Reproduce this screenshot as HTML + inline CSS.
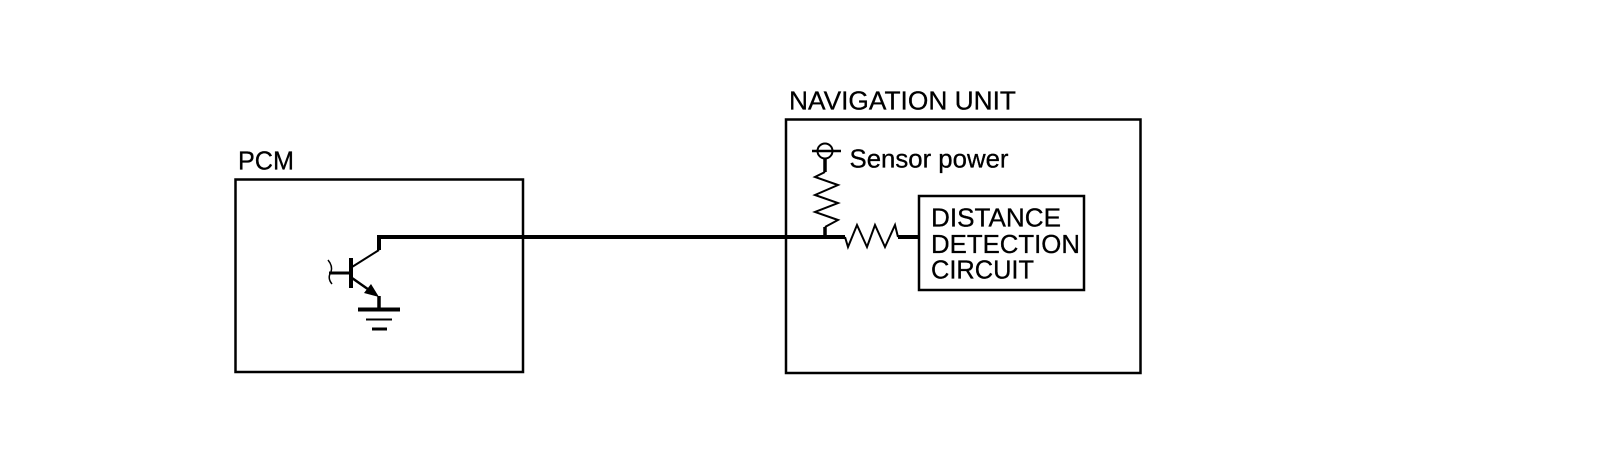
<!DOCTYPE html>
<html>
<head>
<meta charset="utf-8">
<style>
html,body{margin:0;padding:0;background:#fff;width:1600px;height:464px;overflow:hidden}
svg{display:block}
text{font-family:"Liberation Sans",sans-serif;font-size:26px;fill:#000;stroke:#000;stroke-width:.3px}
</style>
</head>
<body>
<svg width="1600" height="464" viewBox="0 0 1600 464" xmlns="http://www.w3.org/2000/svg">
<rect width="1600" height="464" fill="#fff"/>
<g fill="none" stroke="#000">
<rect x="235.500" y="179.500" width="287.500" height="192.500" stroke-width="2.500"/>
<rect x="786" y="119.500" width="354.500" height="253.500" stroke-width="2.500"/>
<rect x="919" y="196" width="165" height="94" stroke-width="2.500"/>
<path d="M379 250V237H845" stroke-width="4"/>
<path d="M898 237H918" stroke-width="4"/>
<path d="M845 237L848 247L857 225L867 247L875 225L885 247L895 225L898 237" stroke-width="2"/>
<path d="M825 159V172" stroke-width="3.500"/>
<path d="M825 237V227" stroke-width="3.500"/>
<path d="M825 172L815 177L838 185L815 195L838 203L815 212L838 220L825 227" stroke-width="2"/>
<circle cx="825" cy="151" r="7.500" stroke-width="2"/>
<path d="M812 151H841" stroke-width="2.500"/>
<path d="M351 258V288" stroke-width="4"/>
<path d="M329 273H351" stroke-width="3"/>
<path d="M328 260Q333 266 331 272Q327 278 332 284" stroke-width="1.500"/>
<path d="M352 267L379 250" stroke-width="2"/>
<path d="M352 278L372 292" stroke-width="2.500"/>
<path d="M379 296V309" stroke-width="3.500"/>
<path d="M358 309.500H400" stroke-width="4"/>
<path d="M366 319.500H392" stroke-width="2"/>
<path d="M372 329H387" stroke-width="3"/>
</g>
<path d="M379 297L364 293L371 284Z" fill="#000"/>
<text x="238" y="169.500" textLength="56" lengthAdjust="spacingAndGlyphs">PCM</text>
<text x="789" y="109.500" textLength="227" lengthAdjust="spacingAndGlyphs">NAVIGATION UNIT</text>
<text x="849.500" y="167.500" textLength="159" lengthAdjust="spacingAndGlyphs">Sensor power</text>
<text x="931" y="226.500" textLength="130" lengthAdjust="spacingAndGlyphs">DISTANCE</text>
<text x="931" y="253" textLength="149" lengthAdjust="spacingAndGlyphs">DETECTION</text>
<text x="931" y="278.500" textLength="103" lengthAdjust="spacingAndGlyphs">CIRCUIT</text>
</svg>
</body>
</html>
